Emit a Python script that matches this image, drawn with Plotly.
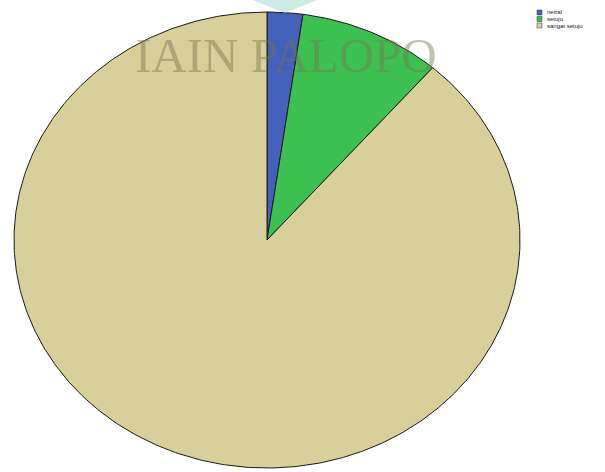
import numpy as np
import plotly.graph_objects as go

# Response counts per category
categories = ["netral", "setuju", "sangat setuju"]
counts = [1, 4, 39]
colors = ["#4360bd", "#3cc150", "#d8d09a"]

W, H = 605, 472
cx, cy = 267, 240          # pie centre in pixels
rx, ry = 253, 228          # horizontal / vertical radius in pixels

fig = go.Figure()

total = sum(counts)
start = 0.0
for name, val, col in zip(categories, counts, colors):
    sweep = 2 * np.pi * val / total
    t = np.linspace(start, start + sweep, max(int(sweep * 80), 4))
    # clockwise from 12 o'clock on a unit circle
    xs = np.concatenate([[0], np.sin(t), [0]])
    ys = np.concatenate([[0], np.cos(t), [0]])
    fig.add_trace(go.Scatter(
        x=xs, y=ys, mode="lines", fill="toself", fillcolor=col,
        line=dict(color="#1a1a1a", width=1), name=name,
        hoverinfo="name", showlegend=False,
    ))
    start += sweep

# small legend in the top-right corner
shapes = []
annotations = []
for i, (name, col) in enumerate(zip(categories, colors)):
    y0 = 10 + i * 6.5
    shapes.append(dict(
        type="rect", xref="paper", yref="paper",
        x0=537 / W, x1=542 / W, y0=1 - y0 / H, y1=1 - (y0 + 5) / H,
        fillcolor=col, line=dict(color="#333", width=0.5),
    ))
    annotations.append(dict(
        text=name, xref="paper", yref="paper",
        x=545 / W, y=1 - (y0 + 2.5) / H, xanchor="left", yanchor="middle",
        showarrow=False, font=dict(size=6, family="Liberation Sans", color="#222"),
    ))

shapes.append(dict(
    type="path", xref="paper", yref="paper",
    path=f"M {252/W} {1} L {317/W} {1} L {285/W} {1-13/H} Z",
    fillcolor="rgba(170,225,205,0.6)", line=dict(width=0), layer="above",
))
annotations.append(dict(
    text="IAIN PALOPO", xref="paper", yref="paper",
    x=286 / W, y=1 - 55 / H, xanchor="center", yanchor="middle",
    showarrow=False,
    font=dict(family="Liberation Serif", size=49, color="rgba(120,115,80,0.45)"),
))

fig.update_layout(
    width=W, height=H,
    margin=dict(l=0, r=0, t=0, b=0, autoexpand=False),
    paper_bgcolor="white", plot_bgcolor="white",
    xaxis=dict(range=[-cx / rx, (W - cx) / rx], visible=False, fixedrange=True),
    yaxis=dict(range=[-(H - cy) / ry, cy / ry], visible=False, fixedrange=True),
    showlegend=False,
    shapes=shapes,
    annotations=annotations,
)

fig.write_html("out.html")
